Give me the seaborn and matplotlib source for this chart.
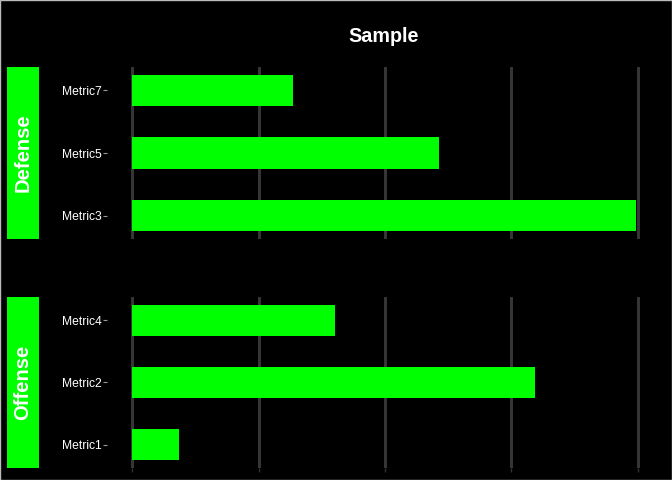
import pandas as pd
import matplotlib
matplotlib.use("Agg")
import matplotlib.pyplot as plt
import seaborn as sns
from matplotlib.patches import Rectangle

# Data
defense_metrics = ["Metric7", "Metric5", "Metric3"]
defense_values = [31.8, 60.7, 99.6]
offense_metrics = ["Metric4", "Metric2", "Metric1"]
offense_values = [40.1, 79.6, 9.3]
x_ticks = [0, 25, 50, 75, 100]

df = pd.DataFrame({
    "metric": defense_metrics + offense_metrics,
    "value": defense_values + offense_values,
    "group": ["Defense"] * 3 + ["Offense"] * 3,
})

sns.set_style("white")
plt.rcParams["font.family"] = ["Liberation Sans", "DejaVu Sans"]

fig = plt.figure(figsize=(6.72, 4.8), dpi=100, facecolor="black")

W, H = 672, 480
panels = {
    "Defense": (67, 239, defense_metrics),
    "Offense": (297, 468, offense_metrics),
}
left_px, right_px = 107, 661
xmax = max(df["value"])
pad = 0.05 * xmax

for i, (grp, (top, bot, order)) in enumerate(panels.items()):
    ax = fig.add_axes([left_px / W, 1 - bot / H, (right_px - left_px) / W, (bot - top) / H])
    ax.set_facecolor("black")
    sub = df[df["group"] == grp]
    ax.set_axisbelow(True)
    ax.grid(axis="x", color="#353535", linewidth=2.2)
    ax.grid(axis="y", visible=False)
    sns.barplot(data=sub, x="value", y="metric", order=order, orient="h",
                color="#00ff00", saturation=1, width=0.5, linewidth=0, ax=ax)
    ax.set_xlim(-pad, xmax + pad)
    ax.set_ylim(2.375, -0.375)
    ax.set_xticks(x_ticks)
    ax.set_xlabel("")
    ax.set_ylabel("")
    for s in ax.spines.values():
        s.set_visible(False)
    ax.tick_params(axis="y", colors="#999999", labelcolor="white", labelsize=8.7,
                   length=3, width=0.8, pad=1, left=True)
    if i == 1:
        ax.tick_params(axis="x", colors="#333333", length=3, width=1,
                       labelbottom=False, bottom=True)
    else:
        ax.tick_params(axis="x", bottom=False, labelbottom=False)

    # facet strip on the left
    sax = fig.add_axes([7 / W, 1 - bot / H, 32 / W, (bot - top) / H])
    sax.set_facecolor("#00ff00")
    sax.set_xticks([])
    sax.set_yticks([])
    for s in sax.spines.values():
        s.set_visible(False)
    sax.text(0.5, 0.5, grp, rotation=90, color="white", fontsize=14.5,
             fontweight="bold", ha="center", va="center", transform=sax.transAxes)

fig.text((left_px + right_px) / 2 / W, 1 - 36 / H, "Sample", color="white",
         fontsize=14.2, fontweight="bold", ha="center", va="center")

fig.patches.append(Rectangle((0.0007, 0.001), 0.9986, 0.998, transform=fig.transFigure,
                             fill=False, edgecolor="#bbbbbb", linewidth=1))

fig.savefig("out.png", dpi=100, facecolor="black")
